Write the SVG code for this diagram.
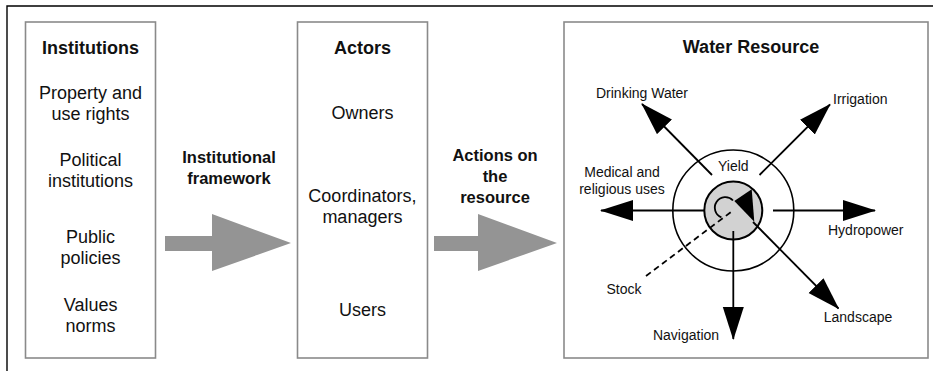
<svg xmlns="http://www.w3.org/2000/svg" width="933" height="371" viewBox="0 0 933 371">
<style>
text{font-family:"Liberation Sans",Arial,sans-serif;fill:#111}
.t{font-size:18px;font-weight:bold;text-anchor:middle}
.b{font-size:18px;text-anchor:middle}
.m{font-size:16.5px;font-weight:bold;text-anchor:middle}
.s{font-size:14px}
.box{fill:#fff;stroke:#8a8a8a;stroke-width:1.6}
.ln{stroke:#000;stroke-width:1.8;fill:none}
.big{fill:#949494}
</style>
<defs>
<marker id="ah" markerUnits="userSpaceOnUse" markerWidth="34" markerHeight="24" refX="32" refY="10.5" orient="auto">
<path d="M0,0 L33,10.5 L0,21 z" fill="#000"/>
</marker>
</defs>
<rect width="933" height="371" fill="#fff"/>
<path d="M7,371 V6 H933" fill="none" stroke="#000" stroke-width="1.4"/>

<g id="institutions">
<rect class="box" x="25.5" y="22" width="130" height="336"/>
<text class="t" x="90.6" y="53.5">Institutions</text>
<text class="b" x="90.6" y="99">Property and</text>
<text class="b" x="90.6" y="119.5">use rights</text>
<text class="b" x="90.6" y="166">Political</text>
<text class="b" x="90.6" y="187">institutions</text>
<text class="b" x="90.6" y="243">Public</text>
<text class="b" x="90.6" y="264">policies</text>
<text class="b" x="90.6" y="311">Values</text>
<text class="b" x="90.6" y="332">norms</text>
</g>

<g id="actors">
<rect class="box" x="297.5" y="22" width="130" height="336"/>
<text class="t" x="362.4" y="53.5">Actors</text>
<text class="b" x="362.4" y="119">Owners</text>
<text class="b" x="362.4" y="202">Coordinators,</text>
<text class="b" x="362.4" y="222.5">managers</text>
<text class="b" x="362.4" y="315.5">Users</text>
</g>

<g id="water-resource">
<rect class="box" x="564" y="22" width="364" height="336"/>
<text class="t" x="751" y="52.5">Water Resource</text>
<circle cx="733.3" cy="210.5" r="60.5" fill="none" stroke="#000" stroke-width="1.6"/>
<circle cx="733.3" cy="210.5" r="29" fill="#d2d2d2" stroke="#000" stroke-width="2"/>
<text class="s" x="733.3" y="171" text-anchor="middle">Yield</text>
<path class="ln" d="M721.4,217.4 A10.5,10.5 0 1 1 733,200.5" stroke-width="1.5"/>
<path d="M734.3,201 L751.7,189.3 L754.3,221.7 z" fill="#000"/>
<text class="s" x="642" y="98" text-anchor="middle">Drinking Water</text>
<text class="s" x="833" y="103.5">Irrigation</text>
<text class="s" x="622" y="177" text-anchor="middle">Medical and</text>
<text class="s" x="622" y="193.5" text-anchor="middle">religious uses</text>
<text class="s" x="828" y="235">Hydropower</text>
<text class="s" x="686" y="340" text-anchor="middle">Navigation</text>
<text class="s" x="858" y="321.7" text-anchor="middle">Landscape</text>
<text class="s" x="624" y="294" text-anchor="middle">Stock</text>
</g>

<g id="connectors">
<path class="big" d="M165,236 H212 V214 L291,243 L212,271 V251 H165 z"/>
<text class="m" x="229" y="163">Institutional</text>
<text class="m" x="229" y="184">framework</text>
<path class="big" d="M434,236 H478 V214 L557,243 L478,271 V251 H434 z"/>
<text class="m" x="495" y="161">Actions on</text>
<text class="m" x="495" y="182">the</text>
<text class="m" x="495" y="202.5">resource</text>
<line class="ln" x1="712" y1="175" x2="642" y2="104" marker-end="url(#ah)"/>
<line class="ln" x1="759.5" y1="175" x2="830" y2="104.5" marker-end="url(#ah)"/>
<line class="ln" x1="705" y1="210.5" x2="601" y2="210.5" marker-end="url(#ah)"/>
<line class="ln" x1="773" y1="210.5" x2="875" y2="210.5" marker-end="url(#ah)"/>
<line class="ln" x1="733.3" y1="231" x2="733.3" y2="339" marker-end="url(#ah)"/>
<line class="ln" x1="753" y1="222" x2="838.5" y2="308.5" marker-end="url(#ah)"/>
<line class="ln" x1="646" y1="276" x2="731" y2="212" stroke-dasharray="6 4" stroke-width="1.5"/>
</g>
</svg>
